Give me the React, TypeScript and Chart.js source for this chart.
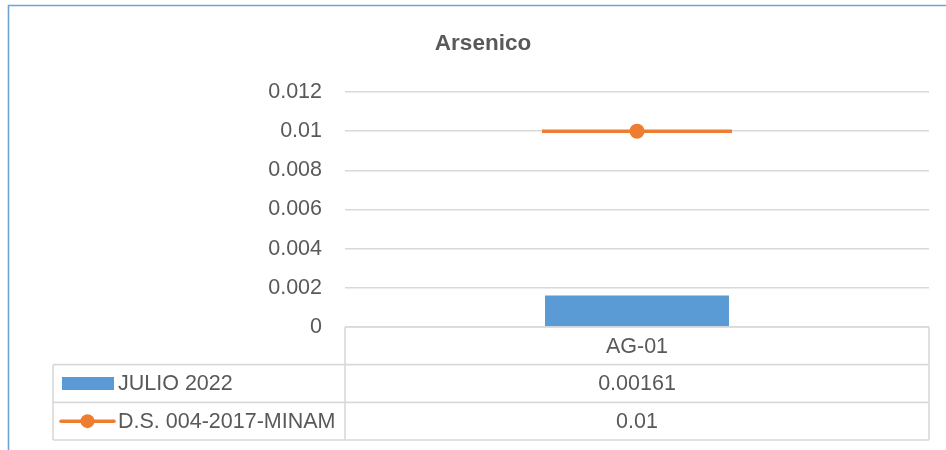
import { useEffect, useRef } from 'react';
import { Chart, registerables } from 'chart.js';

Chart.register(...registerables);

// ---- data ----
const TITLE = 'Arsenico';
const categories = ['AG-01'];
const seriesNames = ['JULIO 2022', 'D.S. 004-2017-MINAM'];
const julio2022 = [0.00161];
const dsMinam = [0.01];
const yTicks = [0, 0.002, 0.004, 0.006, 0.008, 0.01, 0.012];

// ---- styles ----
const BLUE = '#5B9BD5';
const ORANGE = '#ED7D31';
const TEXT = '#595959';
const GRID = '#D9D9D9';
const FRAME = '#6FA3D8';
const FONT = '"Liberation Sans", Arial, sans-serif';

const decorPlugin = {
  id: 'excelDecor',
  beforeDraw(chart: any) {
    const ctx = chart.ctx;
    ctx.save();
    ctx.fillStyle = '#ffffff';
    ctx.fillRect(0, 0, chart.width, chart.height);
    // outer chart frame (extends past the window on the right and bottom)
    ctx.strokeStyle = FRAME;
    ctx.lineWidth = 1.6;
    ctx.beginPath();
    ctx.moveTo(8.5, chart.height);
    ctx.lineTo(8.5, 5.5);
    ctx.lineTo(chart.width, 5.5);
    ctx.stroke();
    ctx.restore();
  },
  afterDraw(chart: any) {
    const ctx = chart.ctx;
    const { left, right, bottom } = chart.chartArea;
    const xs = chart.scales.x;
    ctx.save();

    // title
    ctx.fillStyle = TEXT;
    ctx.font = `bold 22.5px ${FONT}`;
    ctx.textAlign = 'center';
    ctx.textBaseline = 'middle';
    ctx.fillText(TITLE, 483, 44);

    // data table
    const tableLeft = 53;
    const rowH = (chart.height - 10 - bottom) / 3;
    const r0 = bottom;
    const r1 = r0 + rowH;
    const r2 = r1 + rowH;
    const r3 = r2 + rowH;
    ctx.strokeStyle = GRID;
    ctx.lineWidth = 1.6;
    ctx.beginPath();
    ctx.moveTo(left, r0); ctx.lineTo(right, r0);
    ctx.moveTo(tableLeft, r1); ctx.lineTo(right, r1);
    ctx.moveTo(tableLeft, r2); ctx.lineTo(right, r2);
    ctx.moveTo(tableLeft, r3); ctx.lineTo(right, r3);
    ctx.moveTo(left, r0); ctx.lineTo(left, r3);
    ctx.moveTo(right, r0); ctx.lineTo(right, r3);
    ctx.moveTo(tableLeft, r1); ctx.lineTo(tableLeft, r3);
    ctx.stroke();

    ctx.font = `21.5px ${FONT}`;
    ctx.fillStyle = TEXT;
    ctx.textAlign = 'center';
    ctx.textBaseline = 'middle';
    const rows = [julio2022, dsMinam];
    categories.forEach((c, i) => {
      const cx = xs.getPixelForValue(i);
      ctx.fillText(c, cx, r0 + rowH / 2 + 1);
      rows.forEach((vals, ri) => {
        ctx.fillText(String(vals[i]), cx, r0 + rowH * (ri + 1.5) + 1);
      });
    });

    // legend keys
    const y1 = r1 + rowH / 2;
    const y2 = r2 + rowH / 2;
    ctx.fillStyle = BLUE;
    ctx.fillRect(62, y1 - 6.5, 52, 13);
    ctx.strokeStyle = ORANGE;
    ctx.lineWidth = 3.5;
    ctx.lineCap = 'round';
    ctx.beginPath();
    ctx.moveTo(61, y2); ctx.lineTo(114, y2);
    ctx.stroke();
    ctx.fillStyle = ORANGE;
    ctx.beginPath();
    ctx.arc(87.5, y2, 7, 0, Math.PI * 2);
    ctx.fill();

    ctx.fillStyle = TEXT;
    ctx.textAlign = 'left';
    ctx.fillText(seriesNames[0], 118, y1 + 1);
    ctx.fillText(seriesNames[1], 118, y2 + 1);
    ctx.restore();
  },
};

export default function App() {
  const ref = useRef<HTMLCanvasElement | null>(null);

  useEffect(() => {
    if (!ref.current) return;
    const chart = new Chart(ref.current, {
      type: 'bar',
      data: {
        labels: categories,
        datasets: [
          {
            type: 'bar',
            label: seriesNames[0],
            data: julio2022,
            backgroundColor: BLUE,
            barPercentage: 1,
            categoryPercentage: 0.315,
            order: 3,
          },
          {
            type: 'line',
            label: seriesNames[1] + ' segment',
            data: dsMinam,
            showLine: false,
            pointStyle: 'line',
            pointRadius: 95,
            pointBorderWidth: 3.5,
            pointBorderColor: ORANGE,
            borderColor: ORANGE,
            order: 2,
          },
          {
            type: 'line',
            label: seriesNames[1],
            data: dsMinam,
            showLine: false,
            pointStyle: 'circle',
            pointRadius: 7.5,
            pointBorderWidth: 0,
            pointBackgroundColor: ORANGE,
            borderColor: ORANGE,
            order: 1,
          },
        ],
      },
      options: {
        responsive: false,
        animation: false,
        events: [],
        layout: { autoPadding: false, padding: { left: 0, right: 17, top: 92, bottom: 10 } },
        plugins: {
          legend: { display: false },
          title: { display: false },
          tooltip: { enabled: false },
        },
        scales: {
          x: {
            type: 'category',
            grid: { display: false },
            border: { display: false },
            ticks: { display: false },
            afterFit: (s: any) => { s.height = 113; },
          },
          y: {
            min: yTicks[0],
            max: yTicks[yTicks.length - 1],
            afterBuildTicks: (s: any) => { s.ticks = yTicks.map((v) => ({ value: v })); },
            afterFit: (s: any) => { s.width = 345; },
            grid: { color: GRID, lineWidth: 1.6, drawTicks: false },
            border: { display: false },
            ticks: {
              padding: 23,
              color: TEXT,
              font: { family: FONT, size: 21.5 },
              callback: (v: any) => String(Number(Number(v).toFixed(4))),
            },
          },
        },
      },
      plugins: [decorPlugin],
    });
    return () => chart.destroy();
  }, []);

  return (
    <div style={{ position: 'fixed', left: 0, top: 0, width: 946, height: 450, overflow: 'hidden', background: '#fff' }}>
      <canvas ref={ref} width={946} height={450} style={{ display: 'block' }} />
    </div>
  );
}
